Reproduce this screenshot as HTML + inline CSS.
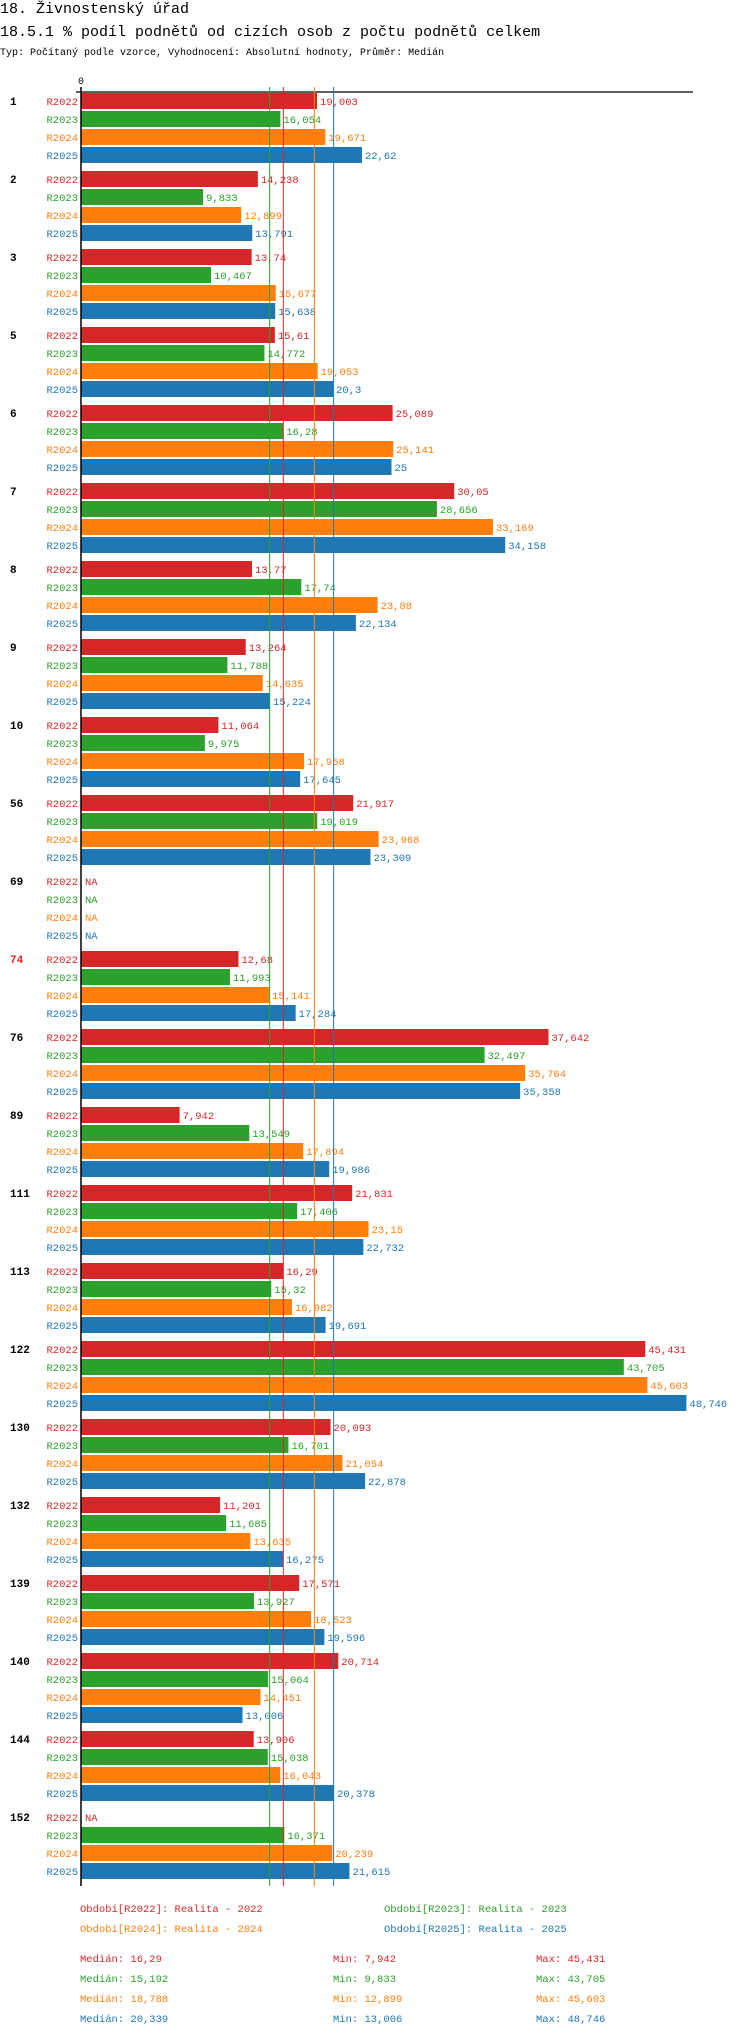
<!DOCTYPE html>
<html><head><meta charset="utf-8">
<style>
html,body{margin:0;padding:0;background:#fff;}
body{width:750px;height:2036px;overflow:hidden;position:relative;font-family:"Liberation Mono",monospace;}
svg text{font-family:"Liberation Mono",monospace;}
</style></head>
<body>
<svg id="chart" width="750" height="2036" xmlns="http://www.w3.org/2000/svg">
<text x="0" y="13" font-size="15" fill="#000">18. Živnostenský úřad</text>
<text x="0" y="36" font-size="15" fill="#000">18.5.1 % podíl podnětů od cizích osob z počtu podnětů celkem</text>
<text x="0" y="55" font-size="10" fill="#000">Typ: Počítaný podle vzorce, Vyhodnocení: Absolutní hodnoty, Průměr: Medián</text>
<text x="78" y="84" font-size="10" fill="#000">0</text>
<line x1="76" y1="92" x2="693" y2="92" stroke="#000" stroke-width="1.3"/>
<g id="marks"></g>
<g id="legend" font-size="10.5">
<text x="80" y="1912" fill="#d62728">Období[R2022]: Realita - 2022</text>
<text x="384" y="1912" fill="#2ca02c">Období[R2023]: Realita - 2023</text>
<text x="80" y="1932" fill="#ff7f0e">Období[R2024]: Realita - 2024</text>
<text x="384" y="1932" fill="#1f77b4">Období[R2025]: Realita - 2025</text>
</g>
<g id="stats" font-size="10.5"></g>
</svg>
<script>
const groups=["1","2","3","5","6","7","8","9","10","56","69","74","76","89","111","113","122","130","132","139","140","144","152"];
const seriesNames=["R2022","R2023","R2024","R2025"];
const colors=["#d62728","#2ca02c","#ff7f0e","#1f77b4"];
const r2022=[19.003,14.238,13.74,15.61,25.089,30.05,13.77,13.264,11.064,21.917,null,12.68,37.642,7.942,21.831,16.29,45.431,20.093,11.201,17.571,20.714,13.906,null];
const r2023=[16.054,9.833,10.467,14.772,16.28,28.656,17.74,11.788,9.975,19.019,null,11.993,32.497,13.549,17.406,15.32,43.705,16.701,11.685,13.927,15.064,15.038,16.371];
const r2024=[19.671,12.899,15.677,19.053,25.141,33.169,23.88,14.635,17.958,23.968,null,15.141,35.764,17.894,23.15,16.982,45.603,21.054,13.635,18.523,14.451,16.043,20.239];
const r2025=[22.62,13.791,15.638,20.3,25,34.158,22.134,15.224,17.645,23.309,null,17.284,35.358,19.986,22.732,19.691,48.746,22.878,16.275,19.596,13.006,20.378,21.615];
const medians=[16.29,15.192,18.788,20.339];
const mins=[7.942,9.833,12.899,13.006];
const maxs=[45.431,43.705,45.603,48.746];
const highlighted=["74"];

const series=[r2022,r2023,r2024,r2025];
const NS="http://www.w3.org/2000/svg";
const x0=81,k=12.42;
const xs=v=>x0+v*k;
const groupTop=i=>93+i*78;
const rowTop=(i,s)=>groupTop(i)+s*18;
const fmt=v=>String(v).replace('.',',');
const marks=document.getElementById('marks');
function mk(tag,attrs,parent){const e=document.createElementNS(NS,tag);for(const a in attrs)e.setAttribute(a,attrs[a]);parent.appendChild(e);return e;}
const bottom=rowTop(groups.length-1,3)+23;
groups.forEach((g,i)=>{
  const gl=mk('text',{x:10,y:groupTop(i)+12,'font-size':11,'font-weight':'bold',fill:highlighted.includes(g)?'#d62728':'#000'},marks);
  gl.textContent=g;
  
  
  series.forEach((arr,s)=>{
    const y=rowTop(i,s);
    const sl=mk('text',{x:78,y:y+12,'font-size':10.5,fill:colors[s],'text-anchor':'end'},marks);
    sl.textContent=seriesNames[s];
    
    
    const v=arr[i];
    if(v===null){
      const t=mk('text',{x:x0+4,y:y+12,'font-size':10.5,fill:colors[s]},marks);
      t.textContent='NA';
      
      
      return;
    }
    const r=mk('rect',{x:x0,y:y,width:xs(v)-x0,height:16,fill:colors[s]},marks);
    
    
    const t=mk('text',{x:xs(v)+3,y:y+12,'font-size':10.5,fill:colors[s]},marks);
    t.textContent=fmt(v);
    
    
  });
});
medians.forEach((m,s)=>{
  const l=mk('line',{x1:xs(m),x2:xs(m),y1:87,y2:bottom,stroke:colors[s],'stroke-width':1},marks);
  
  
});
const ax=mk('line',{x1:x0,x2:x0,y1:87,y2:bottom,stroke:'#000','stroke-width':1.5},marks);


const st=document.getElementById('stats');
seriesNames.forEach((n,s)=>{
  const y=1962+s*20;
  [['Medián: ',medians[s],80],['Min: ',mins[s],333],['Max: ',maxs[s],536]].forEach(([lab,v,x])=>{
    const t=mk('text',{x:x,y:y,fill:colors[s]},st);
    t.textContent=lab+fmt(v);
    
    
  });
});
</script>
</body></html>
